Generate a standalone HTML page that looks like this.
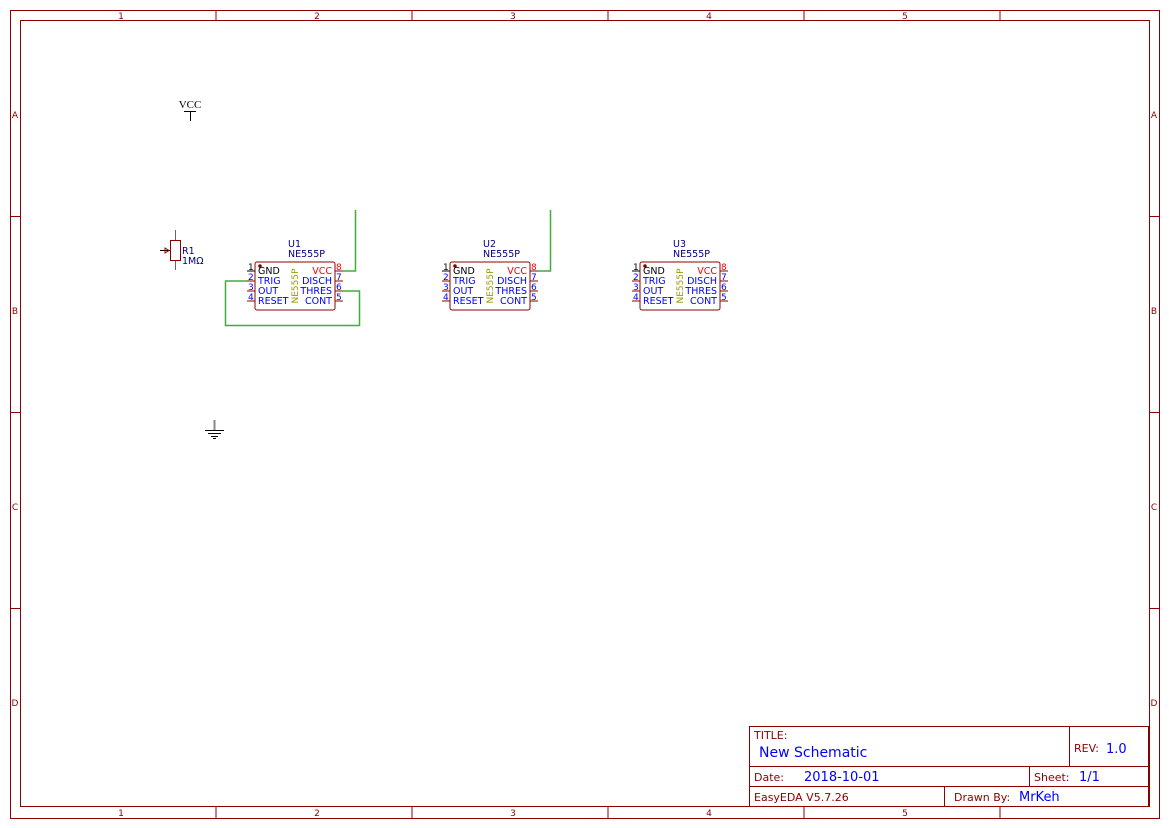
<!DOCTYPE html>
<html><head><meta charset="utf-8"><style>
html,body{margin:0;padding:0;background:#fff;width:1169px;height:828px;overflow:hidden}
svg{display:block}
text{font-family:"DejaVu Sans","Liberation Sans",sans-serif}
</style></head><body>
<svg width="1169" height="828" viewBox="0 0 1169 828" xmlns="http://www.w3.org/2000/svg">
<defs>
<g id="ic">
  <rect x="0" y="0" width="80" height="48" rx="2" fill="#fff" stroke="#8b0000" stroke-width="1"/>
  <circle cx="5" cy="4" r="1.8" fill="#8b0000"/>
  <g stroke="#8b0000" stroke-width="1">
    <line x1="-8" y1="9" x2="0" y2="9" stroke="#000"/>
    <line x1="-8" y1="19" x2="0" y2="19"/>
    <line x1="-8" y1="29" x2="0" y2="29"/>
    <line x1="-8" y1="39" x2="0" y2="39"/>
    <line x1="80" y1="9" x2="88" y2="9"/>
    <line x1="80" y1="19" x2="88" y2="19"/>
    <line x1="80" y1="29" x2="88" y2="29"/>
    <line x1="80" y1="39" x2="88" y2="39"/>
  </g>
  <g font-size="9">
    <text x="-7" y="8" fill="#000">1</text>
    <text x="-7" y="18" fill="#0000ff">2</text>
    <text x="-7" y="28" fill="#0000ff">3</text>
    <text x="-7" y="38" fill="#0000ff">4</text>
    <text x="81" y="8" fill="#ff0000">8</text>
    <text x="81" y="18" fill="#0000ff">7</text>
    <text x="81" y="28" fill="#0000ff">6</text>
    <text x="81" y="38" fill="#0000ff">5</text>
  </g>
  <g font-size="9.5">
    <text x="3" y="12" fill="#000">GND</text>
    <text x="3" y="22" fill="#0000ff">TRIG</text>
    <text x="3" y="32" fill="#0000ff">OUT</text>
    <text x="3" y="42" fill="#0000ff">RESET</text>
    <text x="77" y="12" fill="#ff0000" text-anchor="end">VCC</text>
    <text x="77" y="22" fill="#0000ff" text-anchor="end">DISCH</text>
    <text x="77" y="32" fill="#0000ff" text-anchor="end">THRES</text>
    <text x="77" y="42" fill="#0000ff" text-anchor="end">CONT</text>
  </g>
  <text transform="translate(43,24) rotate(-90)" font-size="9" fill="#999900" text-anchor="middle">NE555P</text>
  <text x="33" y="-5" font-size="9.5" fill="#000080">NE555P</text>
</g>
</defs>

<g fill="none" stroke="#8b0000" stroke-width="1">
  <rect x="10.5" y="10.5" width="1149" height="808"/>
  <rect x="20.5" y="20.5" width="1129" height="786"/>
</g>
<g stroke="#8b0000" stroke-width="1">
  <line x1="216" y1="10" x2="216" y2="20"/><line x1="412" y1="10" x2="412" y2="20"/><line x1="608" y1="10" x2="608" y2="20"/><line x1="804" y1="10" x2="804" y2="20"/><line x1="1000" y1="10" x2="1000" y2="20"/>
  <line x1="216" y1="806" x2="216" y2="818"/><line x1="412" y1="806" x2="412" y2="818"/><line x1="608" y1="806" x2="608" y2="818"/><line x1="804" y1="806" x2="804" y2="818"/><line x1="1000" y1="806" x2="1000" y2="818"/>
  <line x1="10" y1="216.5" x2="20" y2="216.5"/><line x1="10" y1="412.5" x2="20" y2="412.5"/><line x1="10" y1="608.5" x2="20" y2="608.5"/>
  <line x1="1149" y1="216.5" x2="1159" y2="216.5"/><line x1="1149" y1="412.5" x2="1159" y2="412.5"/><line x1="1149" y1="608.5" x2="1159" y2="608.5"/>
</g>
<g font-size="9" fill="#8b0000" text-anchor="middle">
  <text x="121" y="19">1</text><text x="317" y="19">2</text><text x="513" y="19">3</text><text x="709" y="19">4</text><text x="905" y="19">5</text>
  <text x="121" y="816">1</text><text x="317" y="816">2</text><text x="513" y="816">3</text><text x="709" y="816">4</text><text x="905" y="816">5</text>
  <text x="15" y="118">A</text><text x="15" y="314">B</text><text x="15" y="510">C</text><text x="15" y="706">D</text>
  <text x="1154" y="118">A</text><text x="1154" y="314">B</text><text x="1154" y="510">C</text><text x="1154" y="706">D</text>
</g>

<g fill="none" stroke="#8b0000" stroke-width="1">
  <rect x="749.5" y="726.5" width="399" height="80"/>
  <line x1="749" y1="766.5" x2="1149" y2="766.5"/>
  <line x1="749" y1="786.5" x2="1149" y2="786.5"/>
  <line x1="1069.5" y1="726" x2="1069.5" y2="766"/>
  <line x1="1029.5" y1="766" x2="1029.5" y2="786"/>
  <line x1="944.5" y1="786" x2="944.5" y2="806"/>
</g>
<g font-size="11" fill="#8b0000">
  <text x="754" y="739">TITLE:</text>
  <text x="1074" y="752">REV:</text>
  <text x="754" y="781">Date:</text>
  <text x="1034" y="781">Sheet:</text>
  <text x="754" y="801">EasyEDA V5.7.26</text>
  <text x="954" y="801">Drawn By:</text>
</g>
<g fill="#0000ff">
  <text x="759" y="757" font-size="14">New Schematic</text>
  <text x="1106" y="753" font-size="13">1.0</text>
  <text x="804" y="781" font-size="13">2018-10-01</text>
  <text x="1079" y="781" font-size="13">1/1</text>
  <text x="1019" y="801" font-size="13">MrKeh</text>
</g>

<text x="190" y="108" font-size="11" fill="#000" text-anchor="middle" style="font-family:'Liberation Serif',serif">VCC</text>
<g stroke="#000" stroke-width="1">
  <line x1="184" y1="111.5" x2="196" y2="111.5"/>
  <line x1="190.5" y1="111" x2="190.5" y2="121"/>
</g>

<g stroke="#000" stroke-width="1">
  <line x1="214.5" y1="420" x2="214.5" y2="430" stroke="#888" stroke-width="2"/>
  <line x1="205" y1="430.5" x2="224" y2="430.5"/>
  <line x1="208" y1="433.5" x2="221" y2="433.5"/>
  <line x1="211" y1="436.5" x2="218" y2="436.5"/>
  <line x1="213" y1="438.5" x2="216" y2="438.5"/>
</g>

<g stroke="#8b0000" stroke-width="1" fill="none">
  <line x1="175.5" y1="230" x2="175.5" y2="240" stroke="#666"/>
  <line x1="175.5" y1="260" x2="175.5" y2="270" stroke="#666"/>
  <rect x="170.5" y="240.5" width="10" height="20"/>
  <line x1="160" y1="250.5" x2="170" y2="250.5" stroke="#000"/>
  <path d="M165,248 L169,250.5 L165,253 Z"/>
</g>
<text x="182" y="254" font-size="9.5" fill="#000080">R1</text>
<text x="182" y="264" font-size="9.5" fill="#000080">1MΩ</text>

<g transform="translate(255,262)"><use href="#ic"/></g>
<g transform="translate(450,262)"><use href="#ic"/></g>
<g transform="translate(640,262)"><use href="#ic"/></g>
<g font-size="9.5" fill="#000080">
  <text x="288" y="247">U1</text>
  <text x="483" y="247">U2</text>
  <text x="673" y="247">U3</text>
</g>

<g stroke="#3fae3f" stroke-width="1.5" fill="none">
  <polyline points="343,271 355.5,271 355.5,210"/>
  <polyline points="343,291 359.5,291 359.5,325.5 225.5,325.5 225.5,281 247,281"/>
  <polyline points="538,271 550.5,271 550.5,210"/>
</g>
</svg>
</body></html>
